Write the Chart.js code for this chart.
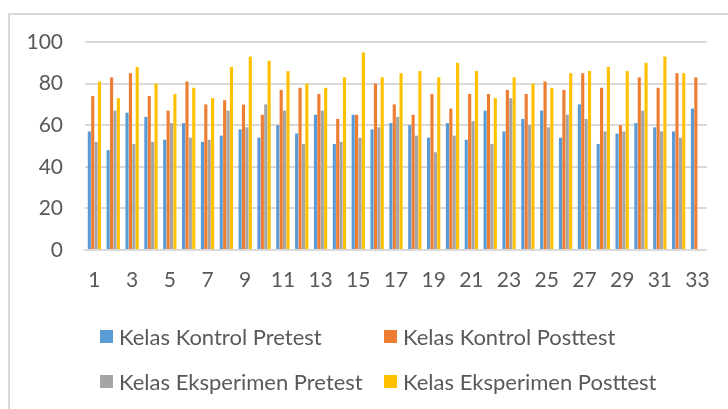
<!DOCTYPE html>
<html>
<head>
<meta charset="utf-8">
<script src="https://cdn.jsdelivr.net/npm/chart.js@4/dist/chart.umd.min.js"></script>
<style>
  html, body { margin: 0; padding: 0; background: #fff; }
  body { width: 728px; height: 409px; position: relative; overflow: hidden; font-family: Lato, "Open Sans", sans-serif; }
  #frame { position: absolute; left: 8px; top: 13px; width: 740px; height: 420px; border: 2px solid #d9d9d9; box-sizing: border-box; }
  #wrap { position: absolute; left: 0; top: 0; width: 728px; height: 409px; }
  #legend { position: absolute; left: 0; top: 0; width: 728px; height: 409px; pointer-events: none; }
  .item { position: absolute; display: flex; align-items: center; color: #595959; font-size: 22px; white-space: nowrap; height: 26px; }
  .box { width: 13px; height: 13px; margin-right: 6px; flex: none; }
</style>
</head>
<body>
<div id="frame"></div>
<div id="wrap"><canvas id="c" width="728" height="409"></canvas></div>
<div id="legend"></div>
<script>
const categories = ['1','2','3','4','5','6','7','8','9','10','11','12','13','14','15','16','17','18','19','20','21','22','23','24','25','26','27','28','29','30','31','32','33'];
const seriesNames = ['Kelas Kontrol Pretest', 'Kelas Kontrol Posttest', 'Kelas Eksperimen Pretest', 'Kelas Eksperimen Posttest'];
const kontrolPretest   = [57,48,66,64,53,61,52,55,58,54,60,56,65,51,65,58,61,60,54,61,53,67,57,63,67,54,70,51,56,61,59,57,68];
const kontrolPosttest  = [74,83,85,74,67,81,70,72,70,65,77,78,75,63,65,80,70,65,75,68,75,75,77,75,81,77,85,78,60,83,78,85,83];
const eksperimenPretest  = [52,67,51,52,61,54,53,67,59,70,67,51,67,52,54,59,64,55,47,55,62,51,73,60,59,65,63,57,57,67,57,54,null];
const eksperimenPosttest = [81,73,88,80,75,78,73,88,93,91,86,80,78,83,95,83,85,86,83,90,86,73,83,80,78,85,86,88,86,90,93,85,null];
const yTicks = [0,20,40,60,80,100];
const colors = ['#5B9BD5', '#ED7D31', '#A5A5A5', '#FFC000'];

const seriesValues = [kontrolPretest, kontrolPosttest, eksperimenPretest, eksperimenPosttest];
const datasets = seriesValues.map((v, i) => ({
  label: seriesNames[i],
  data: v,
  backgroundColor: colors[i],
  borderWidth: 0,
  categoryPercentage: 0.72,
  barPercentage: 0.92
}));

const tickFont = { family: 'Lato', size: 21 };
const chart = new Chart(document.getElementById('c'), {
  type: 'bar',
  data: { labels: categories, datasets },
  options: {
    responsive: false,
    animation: false,
    layout: { padding: { left: 28, right: 20, top: 42, bottom: 109 } },
    plugins: { legend: { display: false }, tooltip: { enabled: false } },
    scales: {
      x: {
        grid: { display: false, drawTicks: false },
        border: { display: true, color: '#d9d9d9', width: 2 },
        ticks: {
          autoSkip: false, maxRotation: 0, padding: 18, color: '#595959', font: tickFont,
          callback: function(val, idx) { return idx % 2 === 0 ? this.getLabelForValue(val) : ''; }
        },
        afterFit: s => { s.height = 50; }
      },
      y: {
        min: 0, max: 100,
        afterBuildTicks: s => { s.ticks = yTicks.map(v => ({ value: v })); },
        grid: { color: '#d9d9d9', lineWidth: 2, drawTicks: false },
        border: { display: false },
        ticks: { padding: 22, color: '#595959', font: tickFont },
        afterFit: s => { s.width = 57; }
      }
    }
  }
});

// Legend (two aligned columns, like the original)
const legendPos = [
  { x: 100, y: 336 }, { x: 384, y: 336 },
  { x: 100, y: 381 }, { x: 384, y: 381 }
];
const legend = document.getElementById('legend');
chart.data.datasets.forEach((ds, i) => {
  const it = document.createElement('div');
  it.className = 'item';
  it.style.left = legendPos[i].x + 'px';
  it.style.top = (legendPos[i].y - 13) + 'px';
  const b = document.createElement('span');
  b.className = 'box';
  b.style.background = ds.backgroundColor;
  const t = document.createElement('span');
  t.textContent = ds.label;
  it.appendChild(b); it.appendChild(t);
  legend.appendChild(it);
});
</script>
</body>
</html>
